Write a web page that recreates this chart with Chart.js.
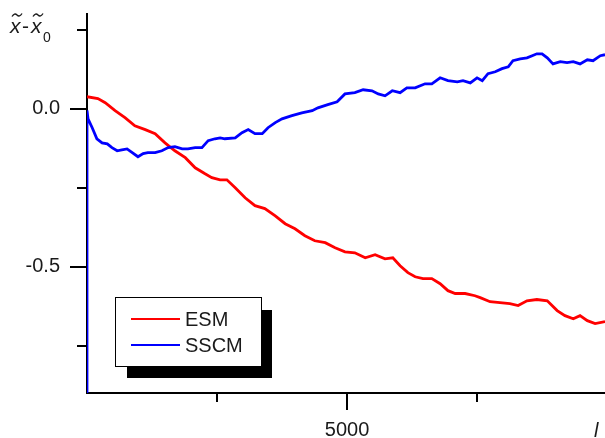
<!DOCTYPE html>
<html>
<head>
<meta charset="utf-8">
<script src="https://cdn.jsdelivr.net/npm/chart.js@4"></script>
<style>
  html, body { margin: 0; padding: 0; background: #fff; }
  canvas { display: block; }
</style>
</head>
<body>
<canvas id="c" width="605" height="438"></canvas>
<script>
// ESM trajectory: step index l and displacement x~ - x~0
const esmX = [0,210,350,540,730,920,1120,1310,1500,1690,1890,2080,2270,2400,2560,2690,2850,3040,3230,3420,3620,3810,4000,4190,4380,4580,4770,4960,5150,5350,5540,5730,5880,6020,6170,6310,6460,6630,6790,6940,7080,7270,7460,7560,7750,7940,8130,8290,8460,8650,8850,9040,9190,9350,9480,9620,9770,9960];
const esmY = [0.038,0.032,0.019,-0.006,-0.028,-0.054,-0.066,-0.079,-0.108,-0.133,-0.155,-0.187,-0.206,-0.218,-0.225,-0.225,-0.250,-0.282,-0.307,-0.316,-0.339,-0.364,-0.380,-0.402,-0.418,-0.424,-0.440,-0.453,-0.456,-0.472,-0.462,-0.475,-0.472,-0.497,-0.519,-0.532,-0.538,-0.538,-0.554,-0.576,-0.585,-0.585,-0.592,-0.598,-0.611,-0.614,-0.617,-0.623,-0.608,-0.604,-0.608,-0.639,-0.655,-0.665,-0.655,-0.671,-0.680,-0.674];

// SSCM trajectory
const sscmX = [0,0,20,100,190,290,390,480,580,670,770,870,980,1080,1170,1310,1440,1560,1690,1830,1940,2080,2210,2330,2460,2560,2650,2850,2980,3100,3230,3370,3480,3620,3750,3940,4130,4330,4440,4630,4810,4960,5150,5310,5480,5600,5730,5870,6020,6150,6310,6500,6630,6790,6940,7120,7230,7370,7500,7600,7710,7850,7980,8100,8190,8330,8460,8560,8650,8750,8850,8960,9100,9230,9350,9480,9620,9730,9870,9960];
const sscmY = [-0.95,-0.005,-0.032,-0.060,-0.095,-0.108,-0.111,-0.123,-0.133,-0.130,-0.127,-0.139,-0.152,-0.142,-0.139,-0.139,-0.133,-0.123,-0.120,-0.127,-0.127,-0.123,-0.123,-0.101,-0.095,-0.092,-0.095,-0.092,-0.076,-0.066,-0.079,-0.079,-0.060,-0.044,-0.032,-0.022,-0.013,-0.006,0.003,0.013,0.022,0.047,0.051,0.060,0.057,0.047,0.041,0.057,0.051,0.066,0.066,0.079,0.079,0.098,0.089,0.085,0.089,0.082,0.098,0.089,0.111,0.117,0.127,0.133,0.152,0.158,0.161,0.168,0.174,0.174,0.161,0.142,0.149,0.146,0.149,0.142,0.155,0.152,0.168,0.171];

const seriesNames = ['ESM', 'SSCM'];
const seriesColors = ['#ff0000', '#0000ff'];

// Axis ticks; an empty label marks a minor tick
const xTicks = [2500, 5000, 7500];
const xTickLabels = ['', '5000', ''];
const yTicks = [-0.75, -0.5, -0.25, 0, 0.25];
const yTickLabels = ['', '-0.5', '', '0.0', ''];

const FONT = '"Liberation Sans", Arial, sans-serif';
Chart.defaults.font.family = FONT;
Chart.defaults.color = '#1a1a1a';

function points(xs, ys) {
  return xs.map((x, i) => ({ x: x, y: ys[i] }));
}

// Keeps label overhang from shrinking the plot area
function noScalePadding(scale) {
  scale.paddingTop = 0;
  scale.paddingBottom = 0;
  scale.paddingLeft = 0;
  scale.paddingRight = 0;
}

// Outward tick marks, long for labelled ticks and short otherwise
const tickMarks = {
  id: 'tickMarks',
  afterDraw(chart) {
    const ctx = chart.ctx;
    const xs = chart.scales.x, ys = chart.scales.y;
    ctx.save();
    ctx.strokeStyle = '#000';
    ctx.lineWidth = 2;
    xTicks.forEach((v, i) => {
      const px = Math.round(xs.getPixelForValue(v));
      const len = xTickLabels[i] ? 17 : 9;
      ctx.beginPath();
      ctx.moveTo(px, xs.top);
      ctx.lineTo(px, xs.top + len);
      ctx.stroke();
    });
    yTicks.forEach((v, i) => {
      const py = Math.round(ys.getPixelForValue(v));
      const len = yTickLabels[i] ? 17 : 10;
      ctx.beginPath();
      ctx.moveTo(ys.right, py);
      ctx.lineTo(ys.right - len, py);
      ctx.stroke();
    });
    ctx.restore();
  }
};

function drawTilde(ctx, x0, y0, w) {
  ctx.beginPath();
  ctx.moveTo(x0, y0 + 1.5);
  ctx.quadraticCurveTo(x0 + w * 0.25, y0 - 2.5, x0 + w * 0.5, y0);
  ctx.quadraticCurveTo(x0 + w * 0.75, y0 + 2.5, x0 + w, y0 - 1.5);
  ctx.stroke();
}

// Axis titles: x~ - x~0 on the vertical axis, l on the horizontal one
const axisTitles = {
  id: 'axisTitles',
  afterDraw(chart) {
    const ctx = chart.ctx;
    ctx.save();
    ctx.fillStyle = '#1a1a1a';
    ctx.strokeStyle = '#1a1a1a';
    ctx.lineWidth = 1.4;
    ctx.textBaseline = 'alphabetic';
    ctx.textAlign = 'left';
    ctx.font = 'italic 21px ' + FONT;
    ctx.fillText('x', 10, 33);
    ctx.fillText('x', 31, 33);
    drawTilde(ctx, 12, 15, 10);
    drawTilde(ctx, 33, 15, 10);
    ctx.font = '21px ' + FONT;
    ctx.fillText('-', 22, 33);
    ctx.font = '14px ' + FONT;
    ctx.fillText('0', 43, 42);
    ctx.font = 'italic 20px ' + FONT;
    ctx.fillText('l', 594, 437);
    ctx.restore();
  }
};

// Boxed legend with a solid drop shadow
const boxLegend = {
  id: 'boxLegend',
  afterDraw(chart) {
    const ctx = chart.ctx;
    ctx.save();
    ctx.fillStyle = '#000';
    ctx.fillRect(127, 310, 145, 68);
    ctx.fillStyle = '#fff';
    ctx.fillRect(115, 297, 147, 70);
    ctx.strokeStyle = '#000';
    ctx.lineWidth = 1;
    ctx.strokeRect(115.5, 297.5, 146, 69);
    ctx.font = '20px ' + FONT;
    ctx.textBaseline = 'middle';
    ctx.textAlign = 'left';
    const rows = [319, 345];
    seriesNames.forEach((name, i) => {
      ctx.strokeStyle = seriesColors[i];
      ctx.lineWidth = 2;
      ctx.beginPath();
      ctx.moveTo(131, rows[i]);
      ctx.lineTo(180, rows[i]);
      ctx.stroke();
      ctx.fillStyle = '#1a1a1a';
      ctx.fillText(name, 185, rows[i] + 1);
    });
    ctx.restore();
  }
};

new Chart(document.getElementById('c'), {
  type: 'line',
  data: {
    datasets: [
      {
        label: seriesNames[0],
        data: points(esmX, esmY),
        borderColor: seriesColors[0],
        borderWidth: 2.8,
        pointRadius: 0,
        tension: 0,
        fill: false,
        order: 1
      },
      {
        label: seriesNames[1],
        data: points(sscmX, sscmY),
        borderColor: seriesColors[1],
        borderWidth: 2.8,
        pointRadius: 0,
        tension: 0,
        fill: false,
        order: 0
      }
    ]
  },
  options: {
    responsive: false,
    animation: false,
    devicePixelRatio: 1,
    layout: { padding: { top: 14, left: 0, right: 0, bottom: 0 } },
    plugins: {
      legend: { display: false },
      tooltip: { enabled: false }
    },
    scales: {
      x: {
        type: 'linear',
        min: 0,
        max: 9960,
        grid: { display: false, drawTicks: false },
        border: { display: true, color: '#000', width: 2 },
        afterBuildTicks(scale) {
          scale.ticks = xTicks.map(v => ({ value: v }));
        },
        afterFit(scale) { scale.height = 45; noScalePadding(scale); },
        ticks: {
          padding: 25,
          autoSkip: false,
          maxRotation: 0,
          font: { size: 20 },
          color: '#1a1a1a',
          callback(value) {
            const i = xTicks.indexOf(value);
            return i >= 0 ? xTickLabels[i] : '';
          }
        }
      },
      y: {
        type: 'linear',
        min: -0.9,
        max: 0.3,
        grid: { display: false, drawTicks: false },
        border: { display: true, color: '#000', width: 2 },
        afterBuildTicks(scale) {
          scale.ticks = yTicks.map(v => ({ value: v }));
        },
        afterFit(scale) { scale.width = 87; noScalePadding(scale); },
        ticks: {
          padding: 27,
          autoSkip: false,
          font: { size: 20 },
          color: '#1a1a1a',
          callback(value) {
            const i = yTicks.indexOf(value);
            return i >= 0 ? yTickLabels[i] : '';
          }
        }
      }
    }
  },
  plugins: [tickMarks, axisTitles, boxLegend]
});
</script>
</body>
</html>
